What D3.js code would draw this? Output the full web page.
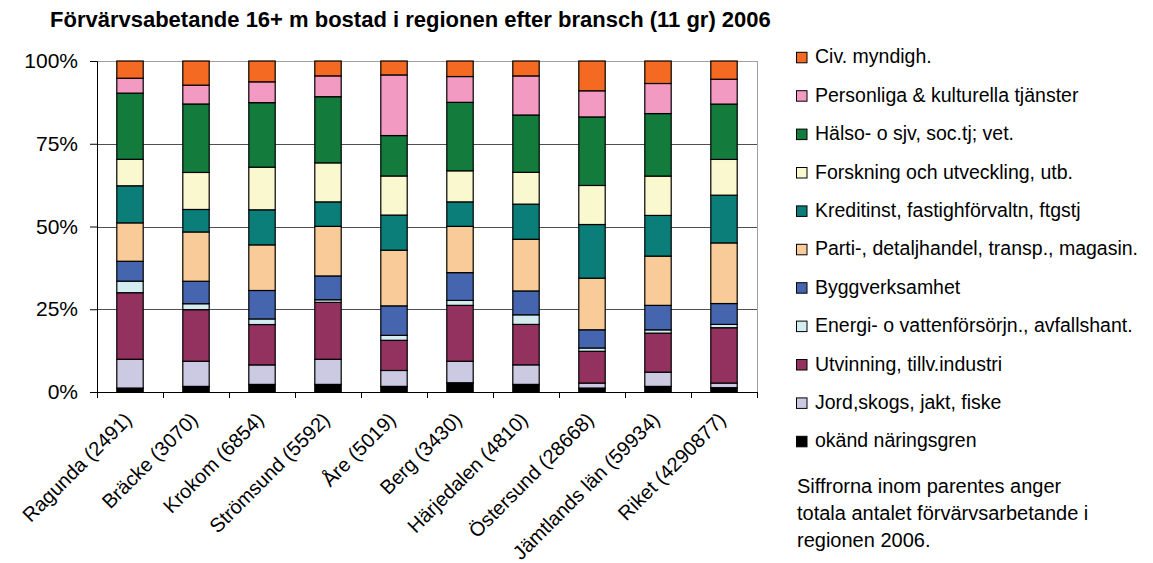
<!DOCTYPE html>
<html><head><meta charset="utf-8">
<script src="https://cdn.jsdelivr.net/npm/d3@7"></script>
<style>
body{margin:0;background:#fff;}
svg{display:block;font-family:"Liberation Sans",Arial,sans-serif;}
</style></head>
<body><svg id="c" width="1153" height="563"></svg>
<script>
const categories = ["Ragunda (2491)","Bräcke (3070)","Krokom (6854)","Strömsund (5592)","Åre (5019)","Berg (3430)","Härjedalen (4810)","Östersund (28668)","Jämtlands län (59934)","Riket (4290877)"];
// series, bottom to top of each stack (percent)
const okand      = [1.2, 1.7, 2.3, 2.3, 1.7, 2.8, 2.3, 1.2, 1.7, 1.3];
const jord       = [8.7, 7.6, 5.9, 7.6, 4.8, 6.5, 5.9, 1.5, 4.3, 1.4];
const utvinning  = [20.1, 15.6, 12.2, 17.2, 9.1, 16.9, 12.2, 9.6, 11.8, 16.7];
const energi     = [3.5, 1.8, 1.7, 0.8, 1.5, 1.5, 2.9, 1.0, 1.0, 1.0];
const bygg       = [6.0, 6.8, 8.6, 7.2, 8.9, 8.4, 7.2, 5.5, 7.4, 6.3];
const parti      = [11.6, 14.9, 13.8, 15.0, 16.8, 14.0, 15.6, 15.6, 14.9, 18.3];
const kredit     = [11.2, 6.8, 10.6, 7.4, 10.6, 7.4, 10.6, 16.2, 12.3, 14.4];
const forskning  = [8.0, 11.2, 12.9, 11.8, 11.8, 9.4, 9.6, 11.8, 11.9, 10.8];
const halso      = [20.0, 20.7, 19.5, 20.0, 12.2, 20.7, 17.3, 20.7, 18.9, 16.7];
const personliga = [4.5, 5.7, 6.3, 6.3, 18.3, 7.8, 11.8, 7.9, 9.1, 7.5];
const civ        = [5.2, 7.3, 6.3, 4.5, 4.2, 4.7, 4.5, 9.0, 6.8, 5.5];

const seriesNames = ["okänd näringsgren","Jord,skogs, jakt, fiske","Utvinning, tillv.industri","Energi- o vattenförsörjn., avfallshant.","Byggverksamhet","Parti-, detaljhandel, transp., magasin.","Kreditinst, fastighförvaltn, ftgstj","Forskning och utveckling, utb.","Hälso- o sjv, soc.tj; vet.","Personliga & kulturella tjänster","Civ. myndigh."];
const seriesValues = [okand, jord, utvinning, energi, bygg, parti, kredit, forskning, halso, personliga, civ];
const seriesColors = ["#000000","#CCC9E3","#93325F","#D3ECF0","#4565AE","#F9CB99","#0C7E7A","#FAF8CE","#137B3C","#F39AC3","#F46A22"];
const yTicks = [0, 0.25, 0.5, 0.75, 1];
const titleText = "Förvärvsabetande 16+ m bostad i regionen efter bransch (11 gr) 2006";
const noteLines = ["Siffrorna inom parentes anger","totala antalet förvärvsarbetande i","regionen 2006."];

const svg = d3.select("#c");
const L = 97, R = 757, T = 61, B = 392;

const rows = categories.map((c, i) => {
  const o = {cat: c};
  seriesNames.forEach((s, j) => o[s] = seriesValues[j][i]);
  return o;
});
const stacked = d3.stack().keys(seriesNames).offset(d3.stackOffsetExpand)(rows);

const x = d3.scaleBand().domain(categories).range([L, R]).paddingInner(0.6).paddingOuter(0.3);
const y = d3.scaleLinear().domain([0, 1]).range([B, T]);

// plot border (top / right)
svg.append("line").attr("x1", L).attr("x2", R).attr("y1", T + 0.5).attr("y2", T + 0.5).attr("stroke", "#a0a0a0");
svg.append("line").attr("x1", R + 0.5).attr("x2", R + 0.5).attr("y1", T).attr("y2", B).attr("stroke", "#a0a0a0");
// gridlines
svg.append("g").selectAll("line").data(yTicks.filter(t => t > 0 && t < 1)).join("line")
  .attr("x1", L).attr("x2", R)
  .attr("y1", d => Math.round(y(d)) + 0.5).attr("y2", d => Math.round(y(d)) + 0.5)
  .attr("stroke", "#505050");

// bars
svg.append("g").selectAll("g").data(stacked).join("g")
  .attr("fill", (d, i) => seriesColors[i])
  .selectAll("rect").data(d => d).join("rect")
  .attr("x", d => x(d.data.cat))
  .attr("width", x.bandwidth())
  .attr("y", d => y(d[1]))
  .attr("height", d => y(d[0]) - y(d[1]))
  .attr("stroke", "#000").attr("stroke-width", 1.2);

// y axis
const yAxis = d3.axisLeft(y).tickValues(yTicks).tickFormat(d3.format(".0%")).tickSize(7).tickPadding(12);
const gy = svg.append("g").attr("transform", `translate(${L},0)`).call(yAxis);
gy.select(".domain").attr("stroke", "#000");
gy.selectAll(".tick line").attr("stroke", "#000");
gy.selectAll(".tick text").attr("font-size", 21).attr("fill", "#000")
  .attr("font-family", '"Liberation Sans",Arial,sans-serif');

// x axis
const step = x.step();
const bounds = d3.range(categories.length + 1).map(i => L + i * step);
svg.append("line").attr("x1", L).attr("x2", R).attr("y1", B + 0.5).attr("y2", B + 0.5).attr("stroke", "#000");
svg.append("g").selectAll("line").data(bounds).join("line")
  .attr("x1", d => Math.round(d) + 0.5).attr("x2", d => Math.round(d) + 0.5)
  .attr("y1", B).attr("y2", B + 6).attr("stroke", "#000");
svg.append("g").selectAll("text").data(categories).join("text")
  .attr("transform", d => `translate(${x(d) + x.bandwidth() / 2 + 3},${B + 29}) rotate(-45)`)
  .attr("text-anchor", "end")
  .attr("font-size", 20)
  .text(d => d);

// title
svg.append("text").attr("x", 50).attr("y", 27).attr("font-size", 22).attr("font-weight", "bold").text(titleText);

// legend
const legendOrder = d3.range(seriesNames.length).reverse();
const lg = svg.append("g").selectAll("g").data(legendOrder).join("g")
  .attr("transform", (d, i) => `translate(796,${63.3 + i * 38.4})`);
lg.append("rect").attr("x", 0.5).attr("y", -11).attr("width", 10.5).attr("height", 10.5)
  .attr("fill", d => seriesColors[d]).attr("stroke", "#000").attr("stroke-width", 1);
lg.append("text").attr("x", 19).attr("y", 0).attr("font-size", 19.5).text(d => seriesNames[d]);

// note
svg.append("g").selectAll("text").data(noteLines).join("text")
  .attr("x", 797).attr("y", (d, i) => 493 + i * 27).attr("font-size", 20).text(d => d);
</script></body></html>
